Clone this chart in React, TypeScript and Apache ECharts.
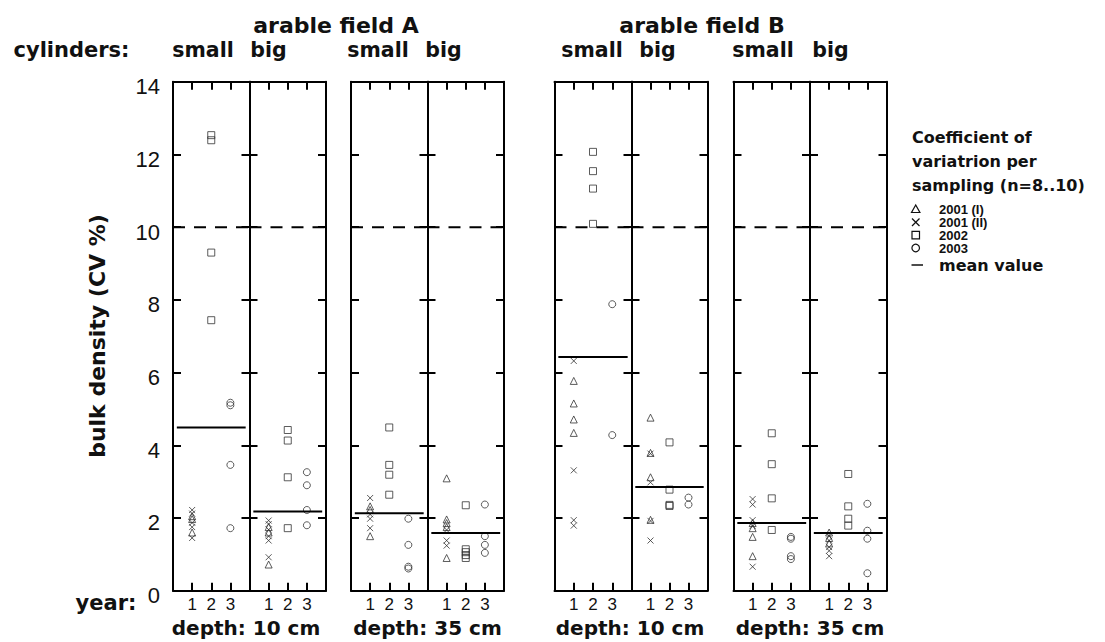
import React, { useEffect, useRef } from "react";
import * as echarts from "echarts";

// ---- data (CV % of bulk density), years: 1 = 2001, 2 = 2002, 3 = 2003 ----
const PANEL_NAMES = ["A10 small", "A10 big", "A35 small", "A35 big", "B10 small", "B10 big", "B35 small", "B35 big"];

// 2001 (I) — triangles, drawn at year 1
const TRI_2001_I: number[][] = [
  [2.05, 1.97, 1.6],
  [1.75, 1.6, 0.72],
  [2.32, 2.22, 1.5],
  [3.09, 1.96, 1.86, 1.75, 0.9],
  [5.77, 5.15, 4.71, 4.34],
  [4.76, 3.79, 3.12, 1.95],
  [1.86, 1.72, 1.48, 0.95],
  [1.6, 1.45, 1.3],
];
// 2001 (II) — crosses, drawn at year 1
const X_2001_II: number[][] = [
  [2.22, 2.12, 1.87, 1.75, 1.45],
  [1.93, 1.83, 1.68, 1.5, 1.38, 0.92],
  [2.55, 2.1, 1.98, 1.72],
  [1.67, 1.38, 1.24],
  [6.32, 3.31, 1.94, 1.79],
  [3.77, 2.98, 1.92, 1.38],
  [2.52, 2.37, 1.94, 1.78, 0.66],
  [1.5, 1.38, 1.2, 1.1, 0.95],
];
// 2002 — squares, drawn at year 2
const SQ_2002: number[][] = [
  [12.53, 12.39, 9.3, 7.44],
  [4.42, 4.13, 3.12, 1.72],
  [4.49, 3.46, 3.19, 2.64],
  [2.35, 1.14, 1.06, 0.98, 0.9],
  [12.07, 11.54, 11.06, 10.09],
  [4.08, 2.78, 2.36, 2.33],
  [4.33, 3.48, 2.54, 1.67],
  [3.21, 2.32, 1.98, 1.79],
];
// 2003 — circles, drawn at year 3
const CI_2003: number[][] = [
  [5.17, 5.1, 3.46, 1.72],
  [3.26, 2.9, 2.22, 1.8],
  [1.98, 1.26, 0.66, 0.61],
  [2.37, 1.5, 1.26, 1.04],
  [7.88, 4.28],
  [2.56, 2.37],
  [1.48, 1.43, 0.95, 0.87],
  [2.39, 1.65, 1.43, 0.48],
];
const MEANS = [4.49, 2.18, 2.13, 1.59, 6.43, 2.85, 1.86, 1.59];
const THRESHOLD = 10;
const YEAR_TICKS = [1, 2, 3];
const Y_TICKS = [2, 4, 6, 8, 10, 12];
const Y_MIN = 0;
const Y_MAX = 14;
const Y_STEP = 2;

// ---- layout ----
const PANEL_LEFT = [173, 249.5, 351, 427.5, 554.5, 631.5, 733.5, 810];
const PANEL_RIGHT = [249.5, 326, 427.5, 504, 631.5, 707.5, 810, 886.5];
const TOP = 81.7;
const HEIGHT = 509;

const TXT = "#111";
const BOLD_FONT = "'DejaVu Sans', 'Noto Sans', sans-serif";
const NARROW = "'Liberation Sans Narrow', 'Liberation Sans', Arial, sans-serif";

const XPATH = "path://M0 0L10 10M10 0L0 10";

function buildOption() {
  const grid: any[] = [];
  const xAxis: any[] = [];
  const yAxis: any[] = [];
  const series: any[] = [];
  const lineW = 2;

  PANEL_NAMES.forEach((name, i) => {
    grid.push({
      left: PANEL_LEFT[i],
      top: TOP,
      width: PANEL_RIGHT[i] - PANEL_LEFT[i],
      height: HEIGHT,
      show: false,
    });
    // bottom x axis
    xAxis.push({
      type: "value",
      gridIndex: i,
      position: "bottom",
      min: 0,
      max: 4,
      interval: 1,
      splitLine: { show: false },
      axisLine: { show: true, onZero: false, lineStyle: { color: "#000", width: lineW } },
      axisTick: { show: true, inside: true, length: 8, customValues: YEAR_TICKS, lineStyle: { color: "#000", width: lineW } },
      axisLabel: {
        show: true,
        customValues: YEAR_TICKS,
        formatter: (v: number) => (v >= 1 && v <= 3 ? String(v) : ""),
        margin: 5,
        fontSize: 17,
        fontFamily: NARROW,
        color: TXT,
      },
    });
    // top x axis
    xAxis.push({
      type: "value",
      gridIndex: i,
      position: "top",
      min: 0,
      max: 4,
      interval: 1,
      splitLine: { show: false },
      axisLine: { show: true, onZero: false, lineStyle: { color: "#000", width: lineW } },
      axisTick: { show: true, inside: true, length: 8, customValues: YEAR_TICKS, lineStyle: { color: "#000", width: lineW } },
      axisLabel: { show: false },
    });
    // left y axis
    yAxis.push({
      type: "value",
      gridIndex: i,
      position: "left",
      min: Y_MIN,
      max: Y_MAX,
      interval: Y_STEP,
      splitLine: { show: false },
      axisLine: { show: true, onZero: false, lineStyle: { color: "#000", width: lineW } },
      axisTick: { show: true, inside: true, length: 8, customValues: Y_TICKS, lineStyle: { color: "#000", width: lineW } },
      axisLabel: { show: false },
    });
    // right y axis
    yAxis.push({
      type: "value",
      gridIndex: i,
      position: "right",
      min: Y_MIN,
      max: Y_MAX,
      interval: Y_STEP,
      splitLine: { show: false },
      axisLine: { show: true, onZero: false, lineStyle: { color: "#000", width: lineW } },
      axisTick: { show: true, inside: true, length: 8, customValues: Y_TICKS, lineStyle: { color: "#000", width: lineW } },
      axisLabel: { show: false },
    });

    const xi = i * 2;
    const yi = i * 2;
    const sym = { color: "transparent", borderColor: "#333", borderWidth: 1 };

    series.push({
      type: "line",
      name: name + " threshold",
      xAxisIndex: xi,
      yAxisIndex: yi,
      data: [[0, THRESHOLD], [4, THRESHOLD]],
      symbol: "none",
      lineStyle: { color: "#000", width: 2, type: [12, 9] },
      silent: true,
    });
    series.push({
      type: "line",
      name: name + " mean",
      xAxisIndex: xi,
      yAxisIndex: yi,
      data: [[0.2, MEANS[i]], [3.8, MEANS[i]]],
      symbol: "none",
      lineStyle: { color: "#000", width: 2 },
      silent: true,
    });
    series.push({
      type: "scatter",
      name: name + " 2001 (I)",
      xAxisIndex: xi,
      yAxisIndex: yi,
      data: TRI_2001_I[i].map((v) => [1, v]),
      symbol: "triangle",
      symbolSize: 7,
      itemStyle: sym,
    });
    series.push({
      type: "scatter",
      name: name + " 2001 (II)",
      xAxisIndex: xi,
      yAxisIndex: yi,
      data: X_2001_II[i].map((v) => [1, v]),
      symbol: XPATH,
      symbolSize: 6,
      itemStyle: sym,
    });
    series.push({
      type: "scatter",
      name: name + " 2002",
      xAxisIndex: xi,
      yAxisIndex: yi,
      data: SQ_2002[i].map((v) => [2, v]),
      symbol: "rect",
      symbolSize: 7,
      itemStyle: sym,
    });
    series.push({
      type: "scatter",
      name: name + " 2003",
      xAxisIndex: xi,
      yAxisIndex: yi,
      data: CI_2003[i].map((v) => [3, v]),
      symbol: "circle",
      symbolSize: 7,
      itemStyle: sym,
    });
  });

  // label-only axis for the y tick labels (drawn slightly lower, as in the original)
  const li = PANEL_NAMES.length;
  grid.push({ left: PANEL_LEFT[0], top: TOP + 5, width: 1, height: HEIGHT, show: false });
  xAxis.push({ type: "value", gridIndex: li, min: 0, max: 1, show: false });
  yAxis.push({
    type: "value",
    gridIndex: li,
    position: "left",
    min: Y_MIN,
    max: Y_MAX,
    interval: Y_STEP,
    splitLine: { show: false },
    axisLine: { show: false },
    axisTick: { show: false },
    axisLabel: { show: true, margin: 13, fontSize: 22, fontFamily: NARROW, color: TXT },
  });

  const t = (text: string, x: number, y: number, size: number, extra: any = {}) => ({
    type: "text",
    x,
    y,
    silent: true,
    ...extra,
    style: {
      text,
      fontSize: size,
      fontWeight: "bold",
      fontFamily: BOLD_FONT,
      fill: TXT,
      align: "center",
      verticalAlign: "middle",
      ...(extra.style || {}),
    },
  });

  const graphic: any[] = [
    t("arable field A", 336, 25, 22),
    t("arable field B", 702, 25, 22),
    t("cylinders:", 71.5, 50, 21),
    t("small", 203, 50, 20.5),
    t("big", 268.5, 50, 20.5),
    t("small", 378, 50, 20.5),
    t("big", 443.5, 50, 20.5),
    t("small", 592, 50, 20.5),
    t("big", 657.5, 50, 20.5),
    t("small", 763, 50, 20.5),
    t("big", 830.5, 50, 20.5),
    t("year:", 106, 603, 21),
    t("depth: 10 cm", 246, 628, 20),
    t("depth: 35 cm", 427.5, 628, 20),
    t("depth: 10 cm", 630, 628, 20),
    t("depth: 35 cm", 810, 628, 20),
    t("bulk density (CV %)", 97, 336, 22, { rotation: Math.PI / 2 }),
    t("Coefficient of", 912, 137, 16, { style: { align: "left" } }),
    t("variatrion per", 912, 161, 16, { style: { align: "left" } }),
    t("sampling (n=8..10)", 912, 185, 16, { style: { align: "left" } }),
    t("2001 (I)", 939, 209, 13, { style: { align: "left", fontFamily: NARROW } }),
    t("2001 (II)", 939, 222, 13, { style: { align: "left", fontFamily: NARROW } }),
    t("2002", 939, 235, 13, { style: { align: "left", fontFamily: NARROW } }),
    t("2003", 939, 248, 13, { style: { align: "left", fontFamily: NARROW } }),
    t("mean value", 939, 265, 16, { style: { align: "left" } }),
    {
      type: "polygon",
      silent: true,
      shape: { points: [[915.7, 205], [911.5, 212.5], [919.9, 212.5]] },
      style: { fill: "none", stroke: "#111", lineWidth: 1.2 },
    },
    { type: "line", silent: true, shape: { x1: 912, y1: 218.5, x2: 919.5, y2: 226 }, style: { stroke: "#111", lineWidth: 1.2 } },
    { type: "line", silent: true, shape: { x1: 919.5, y1: 218.5, x2: 912, y2: 226 }, style: { stroke: "#111", lineWidth: 1.2 } },
    { type: "rect", silent: true, shape: { x: 912, y: 231.3, width: 7.5, height: 7.5 }, style: { fill: "none", stroke: "#111", lineWidth: 1.2 } },
    { type: "circle", silent: true, shape: { cx: 915.7, cy: 248, r: 3.8 }, style: { fill: "none", stroke: "#111", lineWidth: 1.2 } },
    { type: "line", silent: true, shape: { x1: 911.5, y1: 265, x2: 923, y2: 265 }, style: { stroke: "#111", lineWidth: 1.5 } },
  ];

  return {
    animation: false,
    backgroundColor: "#fff",
    grid,
    xAxis,
    yAxis,
    series,
    graphic,
  };
}

export default function App() {
  const ref = useRef<HTMLDivElement>(null);
  useEffect(() => {
    if (!ref.current) return;
    const chart = echarts.init(ref.current, undefined, { renderer: "svg" });
    chart.setOption(buildOption() as any);
    return () => chart.dispose();
  }, []);
  return (
    <div
      ref={ref}
      style={{ position: "absolute", left: 0, top: 0, width: 1105, height: 642, background: "#fff" }}
    />
  );
}
